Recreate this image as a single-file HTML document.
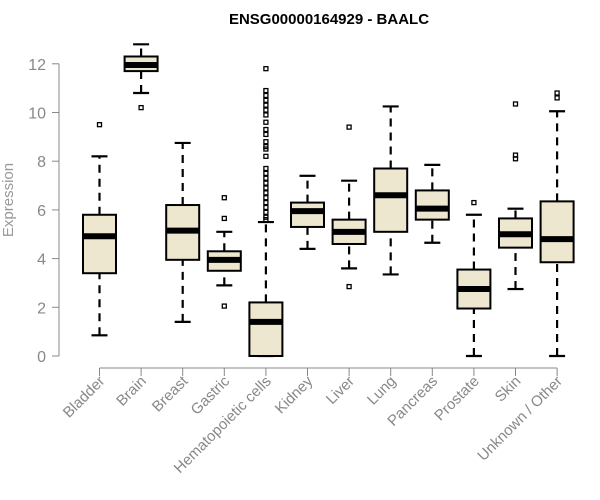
<!DOCTYPE html>
<html><head><meta charset="utf-8"><style>body{margin:0;background:#fff}svg{display:block}</style></head>
<body>
<svg id="c" width="600" height="500" font-family="Liberation Sans, Arial, sans-serif">
<text x="329" y="24" text-anchor="middle" font-weight="bold" font-size="15">ENSG00000164929 - BAALC</text>
<text x="13" y="200" transform="rotate(-90 13 200)" text-anchor="middle" font-size="15" fill="#999">Expression</text>
<g id="g"></g>
</svg>
<script>
const categories=["Bladder","Brain","Breast","Gastric","Hematopoietic cells","Kidney","Liver","Lung","Pancreas","Prostate","Skin","Unknown / Other"];
const whiskerLow=[0.85,10.8,1.4,2.9,0,4.4,3.6,3.35,4.65,0,2.75,0];
const q1=[3.4,11.7,3.95,3.5,0,5.3,4.6,5.1,5.6,1.95,4.45,3.85];
const medians=[4.92,11.95,5.15,3.95,1.4,5.95,5.1,6.6,6.05,2.75,5.0,4.8];
const q3=[5.8,12.3,6.2,4.3,2.2,6.3,5.6,7.7,6.8,3.55,5.65,6.35];
const whiskerHigh=[8.2,12.8,8.75,5.1,5.5,7.4,7.2,10.25,7.85,5.8,6.05,10.05];
const outliers=[[9.5],[10.2],[],[6.5,5.65,2.05],[11.8,10.9,10.7,10.5,10.3,10.1,9.9,9.6,9.3,9.1,8.8,8.6,8.5,8.2,7.7,7.5,7.3,7.1,6.9,6.7,6.5,6.3,6.1,5.9,5.7,5.6],[],[9.4,2.85],[],[],[6.3],[10.35,8.25,8.1],[10.8,10.6]];
const yTicks=[0,2,4,6,8,10,12];
const NS="http://www.w3.org/2000/svg";
const g=document.getElementById('g');
const y=v=>356-v*24.35;
const x=i=>99.5+i*41.6;
function mk(t,a,p){const e=document.createElementNS(NS,t);for(const k in a)e.setAttribute(k,a[k]);(p||g).appendChild(e);return e;}
let e=mk('line',{x1:59,x2:59,y1:y(0),y2:y(12),stroke:'#888'});


yTicks.forEach(t=>{
 let l=mk('line',{x1:52,x2:59,y1:y(t),y2:y(t),stroke:'#888'});
 
 
 let tx=mk('text',{x:46,y:y(t)+6,'text-anchor':'end','font-size':16,fill:'#888'});
 tx.textContent=t;
 
 
});
e=mk('line',{x1:x(0),x2:x(11),y1:368,y2:368,stroke:'#888'});


categories.forEach((c,i)=>{
 const cx=x(i),w=16.5;
 let l=mk('line',{x1:cx,x2:cx,y1:368,y2:376,stroke:'#888'});
 
 
 let tx=mk('text',{x:cx+6,y:382,'text-anchor':'end','font-size':15,fill:'#888',transform:`rotate(-45 ${cx+6} 382)`});
 tx.textContent=c;
 
 
 const bg=mk('g',{});
 
 
 mk('line',{x1:cx,x2:cx,y1:y(whiskerLow[i]),y2:y(q1[i]),stroke:'#000','stroke-width':2.2,'stroke-dasharray':'8,6'},bg);
 mk('line',{x1:cx,x2:cx,y1:y(q3[i]),y2:y(whiskerHigh[i]),stroke:'#000','stroke-width':2.2,'stroke-dasharray':'8,6'},bg);
 mk('line',{x1:cx-8,x2:cx+8,y1:y(whiskerLow[i]),y2:y(whiskerLow[i]),stroke:'#000','stroke-width':2.2},bg);
 mk('line',{x1:cx-8,x2:cx+8,y1:y(whiskerHigh[i]),y2:y(whiskerHigh[i]),stroke:'#000','stroke-width':2.2},bg);
 mk('rect',{x:cx-w,y:y(q3[i]),width:2*w,height:y(q1[i])-y(q3[i]),fill:'#ede7cf',stroke:'#000','stroke-width':2},bg);
 mk('line',{x1:cx-w,x2:cx+w,y1:y(medians[i]),y2:y(medians[i]),stroke:'#000','stroke-width':6},bg);
 outliers[i].forEach(o=>{
  let r=mk('rect',{x:cx-2,y:y(o)-2,width:4,height:4,fill:'none',stroke:'#000','stroke-width':1.3},bg);
  
  
 });
});
</script>
</body></html>
